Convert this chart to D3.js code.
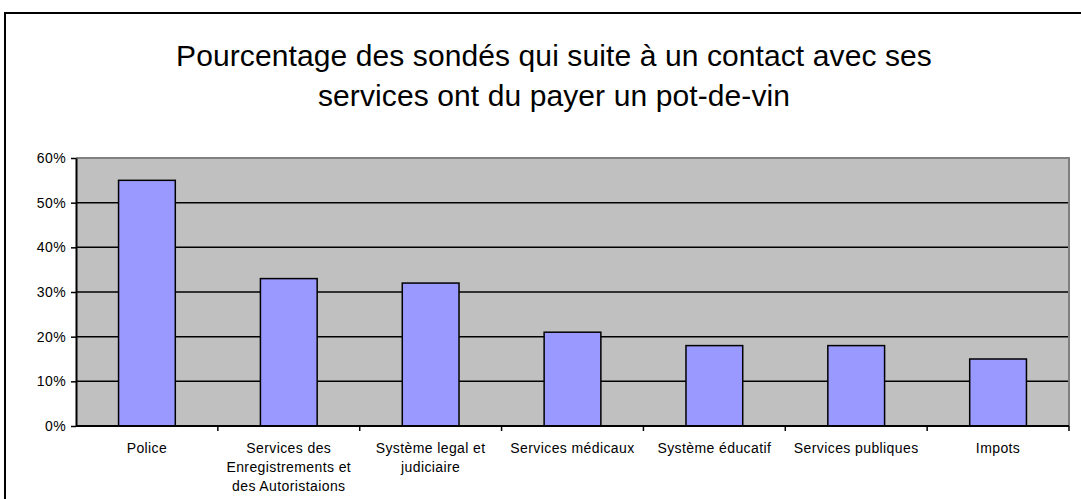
<!DOCTYPE html>
<html>
<head>
<meta charset="utf-8">
<script src="https://cdn.jsdelivr.net/npm/d3@7"></script>
<style>
  body { margin: 0; background: #fff; }
  svg { font-family: "Liberation Sans", Arial, sans-serif; }
</style>
</head>
<body>
<svg id="chart" width="1081" height="499"></svg>
<script>
// categories (each label split in lines as in the original)
const categories = ["Police", "Services des Enregistrements", "Système legal", "Services médicaux", "Système éducatif", "Services publiques", "Impots"];
const labelLines = [
    ["Police"],
    ["Services des", "Enregistrements et", "des Autoristaions"],
    ["Système legal et", "judiciaire"],
    ["Services médicaux"],
    ["Système éducatif"],
    ["Services publiques"],
    ["Impots"]
];
const values = [0.55, 0.33, 0.32, 0.21, 0.18, 0.18, 0.15];
const yTicks = [0, 0.1, 0.2, 0.3, 0.4, 0.5, 0.6];
const titleLines = ["Pourcentage des sondés qui suite à un contact avec ses", "services ont du payer un pot-de-vin"];

const svg = d3.select("#chart");

// outer chart border (left and top only visible)
svg.append("rect")
    .attr("x", 5).attr("y", 13)
    .attr("width", 1100).attr("height", 500)
    .attr("fill", "white")
    .attr("stroke", "black")
    .attr("stroke-width", 2);

// title
svg.append("g").selectAll("text")
    .data(titleLines)
    .join("text")
    .attr("x", 554)
    .attr("y", (d, i) => 66 + i * 40)
    .attr("text-anchor", "middle")
    .style("font-size", "30px")
    .style("letter-spacing", "0.1px")
    .text(d => d);

const margin = {top: 158, left: 76, right: 12, bottom: 73};
const width = 1081 - margin.left - margin.right;
const height = 499 - margin.top - margin.bottom;
const g = svg.append("g").attr("transform", `translate(${margin.left},${margin.top})`);

const x = d3.scaleBand().domain(categories).range([0, width]).paddingInner(0.6).paddingOuter(0.3);
const xb = d3.scaleBand().domain(categories).range([0, width]);
const y = d3.scaleLinear().domain([0, 0.6]).range([height, 0]);

// plot background
g.append("rect")
    .attr("width", width).attr("height", height)
    .attr("fill", "#c0c0c0");

// gridlines
g.selectAll("line.grid")
    .data(yTicks.slice(1, -1))
    .join("line")
    .attr("class", "grid")
    .attr("x1", 0).attr("x2", width)
    .attr("y1", d => y(d)).attr("y2", d => y(d))
    .attr("stroke", "black")
    .attr("stroke-width", 1.5);

// top and right borders (grey)
g.append("path")
    .attr("d", `M0,${y(0.6)}H${width}V${height}`)
    .attr("fill", "none")
    .attr("stroke", "#808080")
    .attr("stroke-width", 2);

// bars
g.selectAll("rect.bar")
    .data(values)
    .join("rect")
    .attr("class", "bar")
    .attr("x", (d, i) => x(categories[i]))
    .attr("y", d => y(d))
    .attr("width", x.bandwidth())
    .attr("height", d => height - y(d))
    .attr("fill", "#9999ff")
    .attr("stroke", "black")
    .attr("stroke-width", 1.5);

// y axis
const yAxis = g.append("g")
    .call(d3.axisLeft(y).tickValues(yTicks).tickFormat(d3.format(".0%")).tickSize(5).tickSizeOuter(0));
yAxis.select(".domain").attr("stroke-width", 2);
yAxis.selectAll(".tick line").attr("stroke-width", 1.5);
yAxis.selectAll(".tick text")
    .attr("x", -10)
    .style("font-size", "14px")
    .style("letter-spacing", "0.4px")
    .style("font-family", "Liberation Sans, Arial, sans-serif");

// x axis: ticks at band edges
const xAxis = g.append("g").attr("transform", `translate(0,${height})`);
xAxis.append("line")
    .attr("x1", 0).attr("x2", width)
    .attr("stroke", "black").attr("stroke-width", 2);
xAxis.selectAll("line.tk")
    .data(categories.slice(1).concat([null]))
    .join("line")
    .attr("class", "tk")
    .attr("x1", d => d === null ? width : xb(d))
    .attr("x2", d => d === null ? width : xb(d))
    .attr("y1", 0).attr("y2", 5)
    .attr("stroke", "black").attr("stroke-width", 1.5);

xAxis.selectAll("text.lbl")
    .data(labelLines)
    .join("text")
    .attr("class", "lbl")
    .attr("text-anchor", "middle")
    .style("font-size", "14px")
    .style("letter-spacing", "0.4px")
    .each(function(lines, i) {
        d3.select(this).selectAll("tspan")
            .data(lines)
            .join("tspan")
            .attr("x", xb(categories[i]) + xb.bandwidth() / 2)
            .attr("y", (d, j) => 27 + j * 19)
            .text(d => d);
    });
</script>
</body>
</html>
